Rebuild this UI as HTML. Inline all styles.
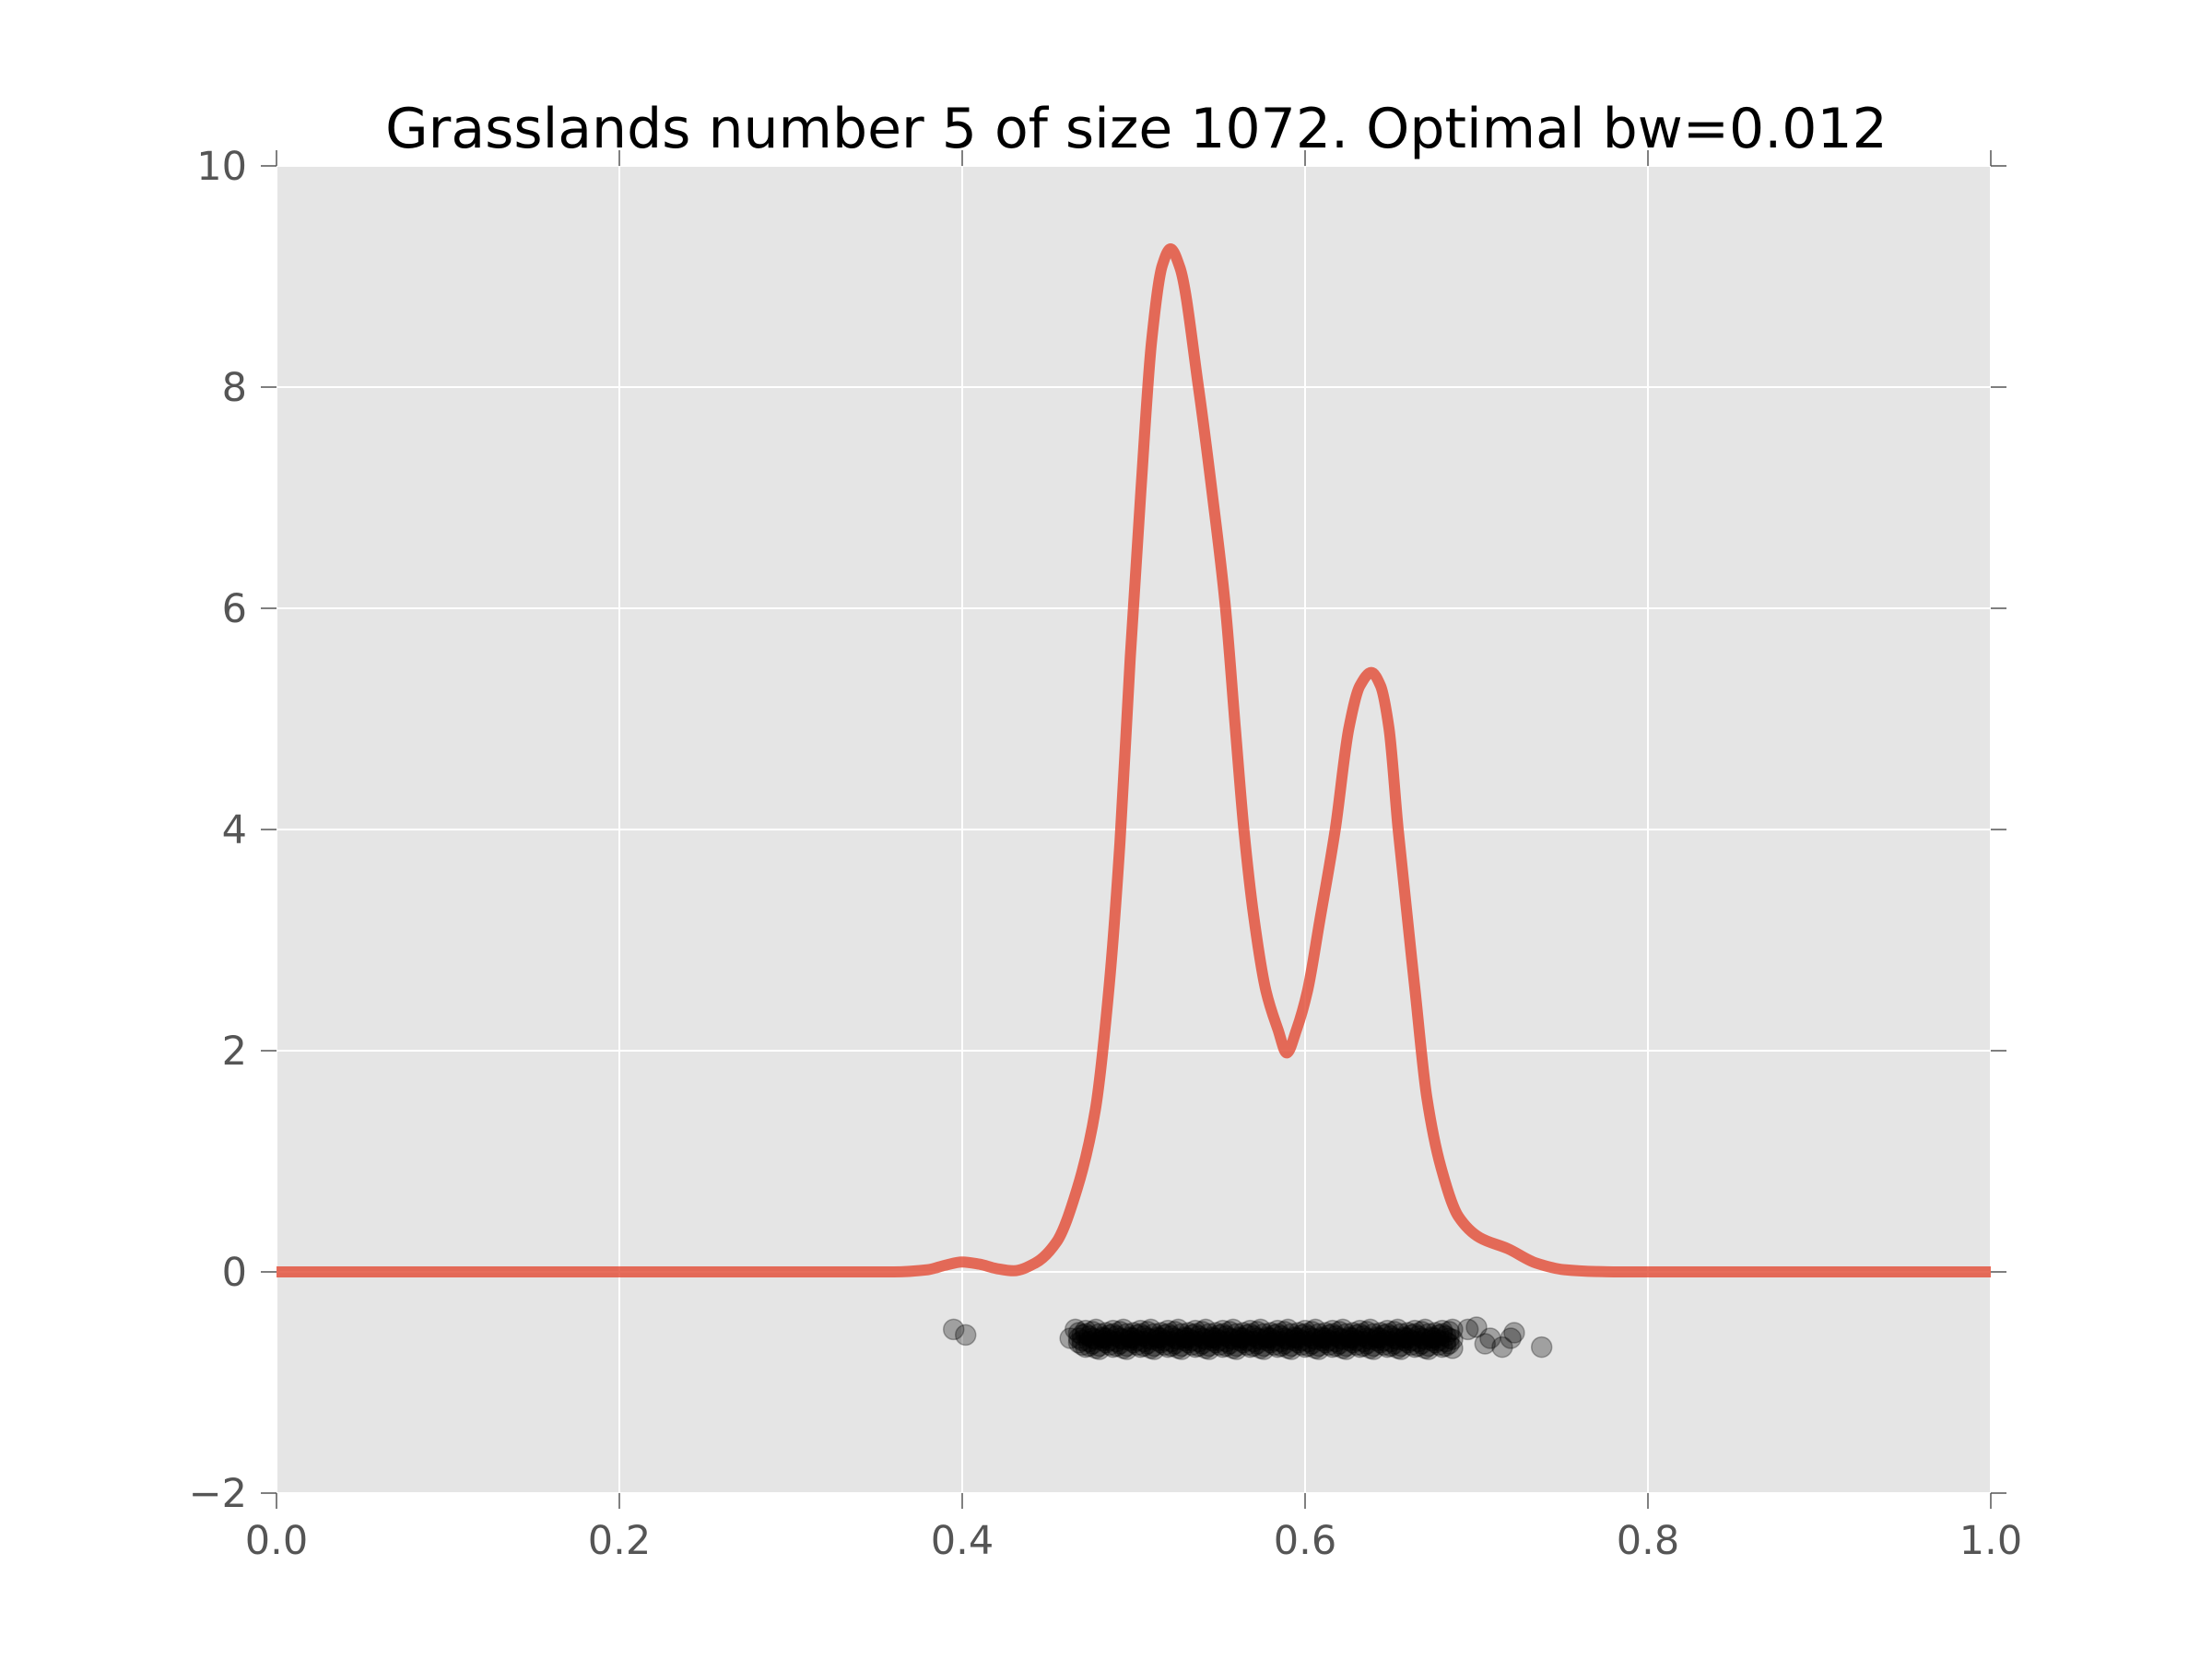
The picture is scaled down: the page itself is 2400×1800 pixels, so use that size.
<!DOCTYPE html>
<html><head><meta charset="utf-8"><style>
html,body{margin:0;padding:0;background:#fff;}
svg{display:block;font-family:"DejaVu Sans","Liberation Sans",sans-serif;}
</style></head><body>
<svg id="chart" width="2400" height="1800" viewBox="0 0 2400 1800" xmlns="http://www.w3.org/2000/svg">
<rect x="0" y="0" width="2400" height="1800" fill="#ffffff"/>
<rect x="300" y="180" width="1860" height="1440" fill="#e5e5e5"/>
<g id="grid"></g>
<g id="ticks"></g>
<g id="dots"></g>
<path id="kde" fill="none" stroke="#E24A33" stroke-opacity="0.8" stroke-width="12" stroke-linejoin="round"/>
<text x="1233" y="160" font-size="60" text-anchor="middle" fill="#000">Grasslands number 5 of size 1072. Optimal bw=0.012</text>
</svg>
<script>
const xTicks=[0.0,0.2,0.4,0.6,0.8,1.0];
const xTickLabels=["0.0","0.2","0.4","0.6","0.8","1.0"];
const yTicks=[-2,0,2,4,6,8,10];
const yTickLabels=["\u22122","0","2","4","6","8","10"];
const kdeX=[0,0.30,0.34,0.36,0.38,0.39,0.40,0.41,0.42,0.43,0.4426,0.455,0.467,0.4776,0.4858,0.492,0.498,0.5043,0.5105,0.5167,0.5215,0.527,0.5378,0.5459,0.5536,0.5593,0.5643,0.570,0.5772,0.5842,0.5893,0.595,0.6014,0.6085,0.6176,0.6256,0.632,0.6387,0.644,0.6489,0.6543,0.6642,0.671,0.6792,0.6895,0.7019,0.7183,0.7348,0.7512,0.77,0.78,0.82,0.90,1.0];
const kdeY=[0,0,0,0,0.02,0.06,0.09,0.07,0.03,0.01,0.08,0.27,0.75,1.46,2.6,3.88,5.55,7.08,8.42,9.1,9.25,9.08,8.0,7.03,6.0,4.92,4.0,3.22,2.54,2.19,1.98,2.19,2.54,3.17,4.0,4.92,5.3,5.42,5.3,4.92,4.0,2.54,1.58,0.95,0.5,0.31,0.21,0.08,0.02,0.003,0,0,0,0];
const outX=[0.395,0.402,0.463,0.466,0.695,0.700,0.705,0.708,0.715,0.720,0.722,0.738];
const outY=[-0.52,-0.57,-0.6,-0.52,-0.52,-0.5,-0.65,-0.6,-0.68,-0.6,-0.55,-0.68];
const bandX=[0.468,0.470,0.472,0.474,0.476,0.478,0.480,0.482,0.484,0.486,0.488,0.490,0.492,0.494,0.496,0.498,0.500,0.502,0.504,0.506,0.508,0.510,0.512,0.514,0.516,0.518,0.520,0.522,0.524,0.526,0.528,0.530,0.532,0.534,0.536,0.538,0.540,0.542,0.544,0.546,0.548,0.550,0.552,0.554,0.556,0.558,0.560,0.562,0.564,0.566,0.568,0.570,0.572,0.574,0.576,0.578,0.580,0.582,0.584,0.586,0.588,0.590,0.592,0.594,0.596,0.598,0.600,0.602,0.604,0.606,0.608,0.610,0.612,0.614,0.616,0.618,0.620,0.622,0.624,0.626,0.628,0.630,0.632,0.634,0.636,0.638,0.640,0.642,0.644,0.646,0.648,0.650,0.652,0.654,0.656,0.658,0.660,0.662,0.664,0.666,0.668,0.670,0.672,0.674,0.676,0.678,0.680,0.682,0.684,0.686];
const bandY1=[-0.55,-0.62,-0.68,-0.58,-0.65,-0.52,-0.70,-0.60,
-0.55,-0.62,-0.68,-0.58,-0.65,-0.52,-0.70,-0.60,
-0.55,-0.62,-0.68,-0.58,-0.65,-0.52,-0.70,-0.60,
-0.55,-0.62,-0.68,-0.58,-0.65,-0.52,-0.70,-0.60,
-0.55,-0.62,-0.68,-0.58,-0.65,-0.52,-0.70,-0.60,
-0.55,-0.62,-0.68,-0.58,-0.65,-0.52,-0.70,-0.60,
-0.55,-0.62,-0.68,-0.58,-0.65,-0.52,-0.70,-0.60,
-0.55,-0.62,-0.68,-0.58,-0.65,-0.52,-0.70,-0.60,
-0.55,-0.62,-0.68,-0.58,-0.65,-0.52,-0.70,-0.60,
-0.55,-0.62,-0.68,-0.58,-0.65,-0.52,-0.70,-0.60,
-0.55,-0.62,-0.68,-0.58,-0.65,-0.52,-0.70,-0.60,
-0.55,-0.62,-0.68,-0.58,-0.65,-0.52,-0.70,-0.60,
-0.55,-0.62,-0.68,-0.58,-0.65,-0.52,-0.70,-0.60,
-0.55,-0.62,-0.68,-0.58,-0.65,-0.52];
const bandY2=[-0.64,-0.57,-0.53,-0.67,-0.60,-0.69,-0.56,-0.62,
-0.64,-0.57,-0.53,-0.67,-0.60,-0.69,-0.56,-0.62,
-0.64,-0.57,-0.53,-0.67,-0.60,-0.69,-0.56,-0.62,
-0.64,-0.57,-0.53,-0.67,-0.60,-0.69,-0.56,-0.62,
-0.64,-0.57,-0.53,-0.67,-0.60,-0.69,-0.56,-0.62,
-0.64,-0.57,-0.53,-0.67,-0.60,-0.69,-0.56,-0.62,
-0.64,-0.57,-0.53,-0.67,-0.60,-0.69,-0.56,-0.62,
-0.64,-0.57,-0.53,-0.67,-0.60,-0.69,-0.56,-0.62,
-0.64,-0.57,-0.53,-0.67,-0.60,-0.69,-0.56,-0.62,
-0.64,-0.57,-0.53,-0.67,-0.60,-0.69,-0.56,-0.62,
-0.64,-0.57,-0.53,-0.67,-0.60,-0.69,-0.56,-0.62,
-0.64,-0.57,-0.53,-0.67,-0.60,-0.69,-0.56,-0.62,
-0.64,-0.57,-0.53,-0.67,-0.60,-0.69,-0.56,-0.62,
-0.64,-0.57,-0.53,-0.67,-0.60,-0.69];
const bandY3=[-0.60,-0.66,-0.56,-0.63,-0.54,-0.61,-0.67,-0.59,
-0.60,-0.66,-0.56,-0.63,-0.54,-0.61,-0.67,-0.59,
-0.60,-0.66,-0.56,-0.63,-0.54,-0.61,-0.67,-0.59,
-0.60,-0.66,-0.56,-0.63,-0.54,-0.61,-0.67,-0.59,
-0.60,-0.66,-0.56,-0.63,-0.54,-0.61,-0.67,-0.59,
-0.60,-0.66,-0.56,-0.63,-0.54,-0.61,-0.67,-0.59,
-0.60,-0.66,-0.56,-0.63,-0.54,-0.61,-0.67,-0.59,
-0.60,-0.66,-0.56,-0.63,-0.54,-0.61,-0.67,-0.59,
-0.60,-0.66,-0.56,-0.63,-0.54,-0.61,-0.67,-0.59,
-0.60,-0.66,-0.56,-0.63,-0.54,-0.61,-0.67,-0.59,
-0.60,-0.66,-0.56,-0.63,-0.54,-0.61,-0.67,-0.59,
-0.60,-0.66,-0.56,-0.63,-0.54,-0.61,-0.67,-0.59,
-0.60,-0.66,-0.56,-0.63,-0.54,-0.61,-0.67,-0.59,
-0.60,-0.66,-0.56,-0.63,-0.54,-0.61];

const NS="http://www.w3.org/2000/svg";
const L=300,R=2160,T=180,B=1620;
function sx(v){return L+(v-0)/(1-0)*(R-L);}
function sy(v){return B-(v-(-2))/(10-(-2))*(B-T);}
function mk(tag,attrs,parent){const e=document.createElementNS(NS,tag);for(const k in attrs)e.setAttribute(k,attrs[k]);parent.appendChild(e);return e;}
const grid=document.getElementById('grid'),ticks=document.getElementById('ticks'),dots=document.getElementById('dots');
xTicks.forEach((v,i)=>{
  const x=sx(v);
  const g=mk('line',{x1:x,x2:x,y1:T,y2:B,stroke:'#fff','stroke-width':2},grid);
  
  
  const t1=mk('line',{x1:x,x2:x,y1:B,y2:B+17,stroke:'#555','stroke-width':1.5},ticks);
  
  
  const t2=mk('line',{x1:x,x2:x,y1:T,y2:T-17,stroke:'#555','stroke-width':1.5},ticks);
  
  
  const lb=mk('text',{x:x,y:1686,'font-size':43,'text-anchor':'middle',fill:'#555'},ticks);
  lb.textContent=xTickLabels[i];
  
  
});
yTicks.forEach((v,i)=>{
  const y=sy(v);
  const g=mk('line',{x1:L,x2:R,y1:y,y2:y,stroke:'#fff','stroke-width':2},grid);
  
  
  const t1=mk('line',{x1:L,x2:L-17,y1:y,y2:y,stroke:'#555','stroke-width':1.5},ticks);
  
  
  const t2=mk('line',{x1:R,x2:R+17,y1:y,y2:y,stroke:'#555','stroke-width':1.5},ticks);
  
  
  const lb=mk('text',{x:268,y:y+15,'font-size':43,'text-anchor':'end',fill:'#555'},ticks);
  lb.textContent=yTickLabels[i];
  
  
});
function dot(x,y){
  const c=mk('circle',{cx:sx(x),cy:sy(y),r:11,fill:'#000','fill-opacity':0.3,stroke:'#000','stroke-opacity':0.3,'stroke-width':1.5},dots);
  
  
}
outX.forEach((v,i)=>dot(v,outY[i]));
bandX.forEach((v,i)=>{dot(v,bandY1[i]);dot(v,bandY2[i]);dot(v,bandY3[i]);});
// monotone cubic (Fritsch-Carlson) in pixel space
const P=kdeX.map((v,i)=>[sx(v),sy(kdeY[i])]);
const n=P.length, dl=[], m=[];
for(let i=0;i<n-1;i++) dl.push((P[i+1][1]-P[i][1])/(P[i+1][0]-P[i][0]));
m[0]=dl[0]; m[n-1]=dl[n-2];
for(let i=1;i<n-1;i++){
  if(dl[i-1]*dl[i]<=0) m[i]=0;
  else { const h0=P[i][0]-P[i-1][0], h1=P[i+1][0]-P[i][0];
    const w1=2*h1+h0, w2=h1+2*h0; m[i]=(w1+w2)/(w1/dl[i-1]+w2/dl[i]); }
}
let d='M'+P[0][0]+','+P[0][1];
for(let i=0;i<n-1;i++){
  const h=(P[i+1][0]-P[i][0])/3;
  d+=' C'+(P[i][0]+h)+','+(P[i][1]+m[i]*h)+' '+(P[i+1][0]-h)+','+(P[i+1][1]-m[i+1]*h)+' '+P[i+1][0]+','+P[i+1][1];
}
document.getElementById('kde').setAttribute('d',d);
</script>
</body></html>
